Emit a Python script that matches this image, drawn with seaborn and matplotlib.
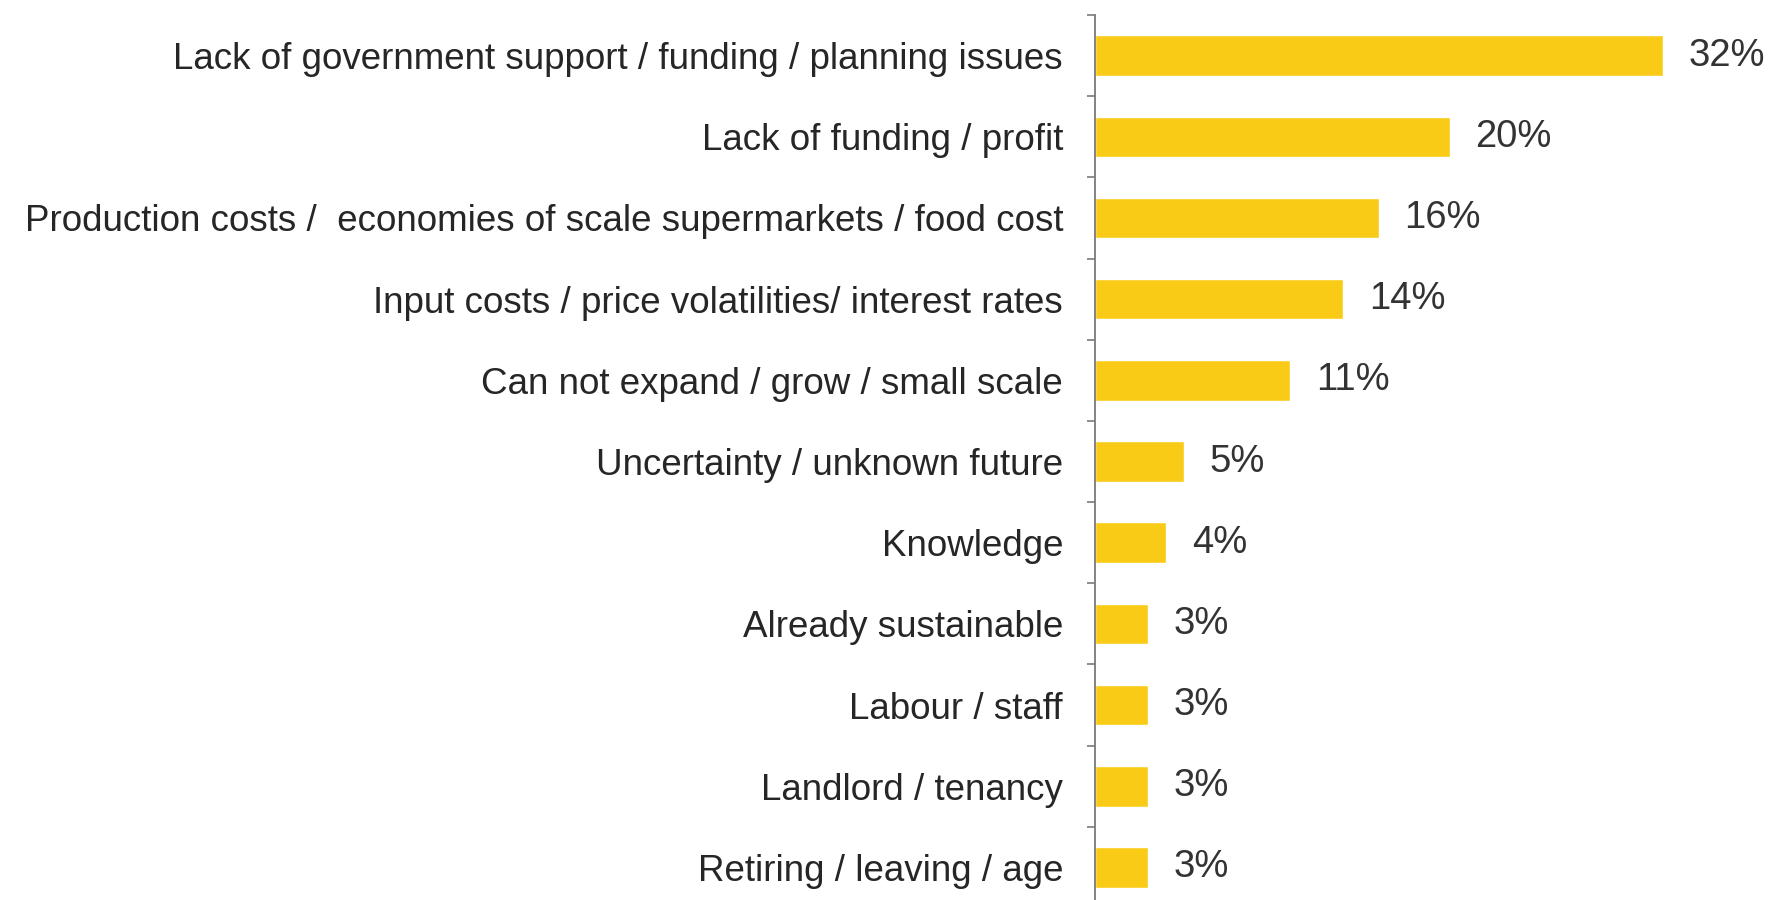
import matplotlib
matplotlib.use("Agg")
import matplotlib.pyplot as plt
import seaborn as sns
import pandas as pd
import numpy as np

categories = [
    "Lack of government support / funding / planning issues",
    "Lack of funding / profit",
    "Production costs /  economies of scale supermarkets / food cost",
    "Input costs / price volatilities/ interest rates",
    "Can not expand / grow / small scale",
    "Uncertainty / unknown future",
    "Knowledge",
    "Already sustainable",
    "Labour / staff",
    "Landlord / tenancy",
    "Retiring / leaving / age",
]
values = [32, 20, 16, 14, 11, 5, 4, 3, 3, 3, 3]

df = pd.DataFrame({"reason": categories, "share": values})

sns.set_theme(style="white")
plt.rcParams["font.family"] = ["Liberation Sans", "DejaVu Sans"]

fig = plt.figure(figsize=(17.69, 9.0), dpi=100)
ax = fig.add_axes([0.619, -0.0089, 0.381, 0.9922])

sns.barplot(data=df, x="share", y="reason", orient="h", color="#F9CB17",
            saturation=1, width=0.5, ax=ax)

ax.set_xlim(0, 38)
ax.set_ylim(len(categories) - 0.5, -0.5)
ax.set_xlabel("")
ax.set_ylabel("")
ax.set_xticks([])

# category names as labels, tick marks at the boundaries between rows
ax.set_yticks(np.arange(len(categories)))
ax.set_yticklabels(categories, fontsize=26.5, color="#262626")
ax.tick_params(axis="y", which="major", length=0, pad=23)
ax.set_yticks(np.arange(len(categories) + 1) - 0.5, minor=True)
ax.tick_params(axis="y", which="minor", left=True, length=6, width=1.2,
               color="#7a7a7a", direction="out")

for side in ["top", "right", "bottom"]:
    ax.spines[side].set_visible(False)
ax.spines["left"].set_color("#7a7a7a")
ax.spines["left"].set_linewidth(1.3)

ax.bar_label(ax.containers[0], labels=[f"{v}%" for v in values],
             padding=18.5, fontsize=27.5, color="#333333")

fig.savefig("out.png", dpi=100, facecolor="white")
